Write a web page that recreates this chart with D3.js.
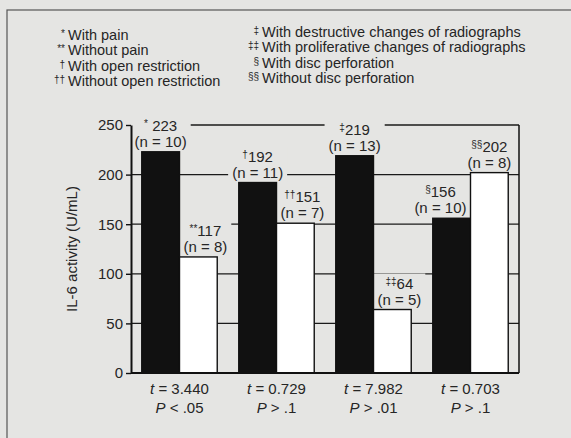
<!DOCTYPE html>
<html>
<head>
<meta charset="utf-8">
<script src="https://cdn.jsdelivr.net/npm/d3@7"></script>
<style>
  body { margin: 0; background: #e5e5e3; }
  svg { display: block; font-family: "Liberation Sans", Arial, sans-serif; }
  text { fill: #262626; }
</style>
</head>
<body>
<div class="chart"></div>
<script>
// values
var groups = ["pain", "open", "radio", "disc"];
var withVals = [223, 192, 219, 156];
var withoutVals = [117, 151, 64, 202];
var withN = [10, 11, 13, 10];
var withoutN = [8, 7, 5, 8];
var withMarks = ["*", "\u2020", "\u2021", "\u00a7"];
var withoutMarks = ["**", "\u2020\u2020", "\u2021\u2021", "\u00a7\u00a7"];
var tStats = ["3.440", "0.729", "7.982", "0.703"];
var pStats = ["< .05", "> .1", "> .01", "> .1"];
var yTicks = [0, 50, 100, 150, 200, 250];

var legendLeft = [
  ["*", "With pain"],
  ["**", "Without pain"],
  ["\u2020", "With open restriction"],
  ["\u2020\u2020", "Without open restriction"]
];
var legendRight = [
  ["\u2021", "With destructive changes of radiographs"],
  ["\u2021\u2021", "With proliferative changes of radiographs"],
  ["\u00a7", "With disc perforation"],
  ["\u00a7\u00a7", "Without disc perforation"]
];

var svgWidth = 571;
var svgHeight = 438;
var bg = "#e5e5e3";

var plot = { left: 131, right: 519, top: 125, bottom: 373 };

var svg = d3.select(".chart")
  .append("svg")
    .attr("width", svgWidth)
    .attr("height", svgHeight);

// outer frame of the figure
svg.append("rect")
  .attr("x", 7).attr("y", 10)
  .attr("width", 600).attr("height", 500)
  .attr("fill", "none")
  .attr("stroke", "#555")
  .attr("stroke-width", 1.2);

// legend, two columns, symbols right aligned before the text
function drawLegend(items, x, y0) {
  var g = svg.append("g");
  items.forEach(function(d, i) {
    var yy = y0 + i * 15.3;
    g.append("text")
      .attr("x", x - 3).attr("y", yy - 3)
      .attr("text-anchor", "end")
      .attr("font-size", 10)
      .text(d[0]);
    g.append("text")
      .attr("x", x).attr("y", yy)
      .attr("font-size", 14.5)
      .text(d[1]);
  });
}
drawLegend(legendLeft, 68, 40);
drawLegend(legendRight, 262, 37);

var x0 = d3.scaleBand()
  .domain(groups)
  .range([plot.left, plot.right])
  .paddingInner(0.222)
  .paddingOuter(0.111);

var x1 = d3.scaleBand()
  .domain(["with", "without"])
  .range([0, x0.bandwidth()]);

var y = d3.scaleLinear()
  .domain([0, 250])
  .range([plot.bottom, plot.top]);

var bars = [];
groups.forEach(function(g, i) {
  bars.push({ group: g, key: "with", value: withVals[i], other: withoutVals[i], n: withN[i], mark: withMarks[i] });
  bars.push({ group: g, key: "without", value: withoutVals[i], other: withVals[i], n: withoutN[i], mark: withoutMarks[i] });
});

// layers, bottom to top
var gridG = svg.append("g");
var boxG = svg.append("g");
var barG = svg.append("g");
var labelG = svg.append("g");

gridG.selectAll("line")
  .data(yTicks.filter(function(d) { return d > 0; }))
  .enter().append("line")
    .attr("x1", plot.left).attr("x2", plot.right)
    .attr("y1", function(d) { return y(d); })
    .attr("y2", function(d) { return y(d); })
    .attr("stroke", "#1a1a1a")
    .attr("stroke-width", 1.3);

barG.selectAll("rect")
  .data(bars)
  .enter().append("rect")
    .attr("x", function(d) { return x0(d.group) + x1(d.key); })
    .attr("y", function(d) { return y(d.value); })
    .attr("width", x1.bandwidth())
    .attr("height", function(d) { return y(0) - y(d.value); })
    .attr("fill", function(d) { return d.key === "with" ? "#111" : "#fff"; })
    .attr("stroke", "#111")
    .attr("stroke-width", 1.4);

// value labels above each bar
var labels = labelG.selectAll("g")
  .data(bars)
  .enter().append("g");

labels.append("text")
  .attr("text-anchor", "middle")
  .attr("y", -16)
  .attr("font-size", 15)
  .call(function(t) {
    t.append("tspan")
      .attr("font-size", 10)
      .attr("dy", -4)
      .text(function(d) { return d.mark; });
    t.append("tspan")
      .attr("dy", 4)
      .text(function(d) { return (d.mark === "*" ? " " : "") + d.value; });
  });

labels.append("text")
  .attr("text-anchor", "middle")
  .attr("font-size", 15)
  .text(function(d) { return "(n = " + d.n + ")"; });

// centre on the bar, but slide away from a taller neighbour bar
labels.each(function(d) {
  var b = this.getBBox();
  var bx = x0(d.group) + x1(d.key);
  var cx = bx + x1.bandwidth() / 2;
  if (d.other > d.value) {
    if (d.key === "without") {
      cx = Math.max(cx, bx + b.width / 2 + 4);
    } else {
      cx = Math.min(cx, bx + x1.bandwidth() - b.width / 2 - 4);
    }
  }
  var t = "translate(" + cx + "," + (y(d.value) - 5) + ")";
  d3.select(this).attr("transform", t);
  // box in the page colour hides grid lines behind the label
  boxG.append("rect")
    .attr("transform", t)
    .attr("x", b.x - 4).attr("y", b.y - 1)
    .attr("width", b.width + 8).attr("height", b.height + 2)
    .attr("fill", bg);
});

// axes and frame
var leftAxis = d3.axisLeft(y)
  .tickValues(yTicks)
  .tickSize(5)
  .tickSizeOuter(0)
  .tickPadding(3);

var axisG = svg.append("g")
  .attr("transform", "translate(" + plot.left + ",0)")
  .call(leftAxis);
axisG.select(".domain").attr("stroke", "#111").attr("stroke-width", 2);
axisG.selectAll(".tick line").attr("stroke", "#111").attr("stroke-width", 1.4);
axisG.selectAll(".tick text")
  .attr("font-size", 15)
  .attr("font-family", "Liberation Sans, Arial, sans-serif")
  .attr("fill", "#262626");

svg.append("line")
  .attr("x1", plot.left).attr("x2", plot.right)
  .attr("y1", y(0)).attr("y2", y(0))
  .attr("stroke", "#111").attr("stroke-width", 2);

svg.append("line")
  .attr("x1", plot.right).attr("x2", plot.right)
  .attr("y1", y(250)).attr("y2", y(0))
  .attr("stroke", "#111").attr("stroke-width", 1.5);

svg.append("text")
  .attr("transform", "translate(77," + ((plot.top + plot.bottom) / 2) + ") rotate(-90)")
  .attr("text-anchor", "middle")
  .attr("font-size", 15)
  .text("IL-6 activity (U/mL)");

// test statistics under each group
var stats = svg.append("g")
  .selectAll("g")
  .data(groups)
  .enter().append("g")
    .attr("transform", function(d) {
      return "translate(" + (x0(d) + x0.bandwidth() / 2) + ",0)";
    });

stats.append("text")
  .attr("y", 394)
  .attr("text-anchor", "middle")
  .attr("font-size", 15)
  .call(function(t) {
    t.append("tspan").attr("font-style", "italic").text("t");
    t.append("tspan").text(function(d, i) { return " = " + tStats[i]; });
  });

stats.append("text")
  .attr("y", 413)
  .attr("text-anchor", "middle")
  .attr("font-size", 15)
  .call(function(t) {
    t.append("tspan").attr("font-style", "italic").text("P");
    t.append("tspan").text(function(d, i) { return " " + pStats[i]; });
  });
</script>
</body>
</html>
